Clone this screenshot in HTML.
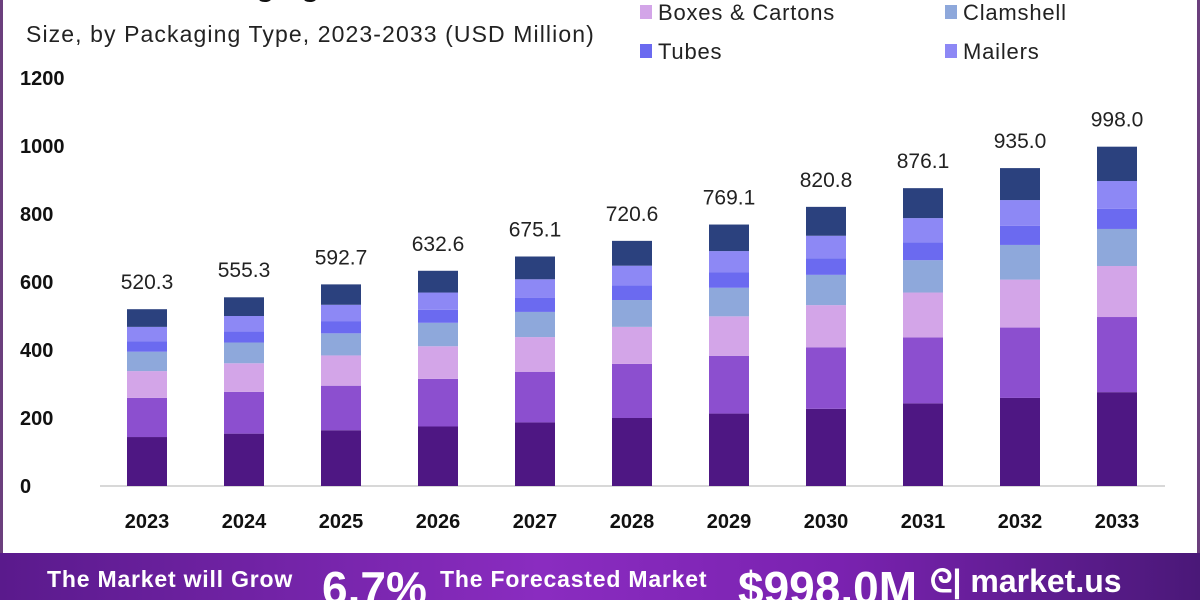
<!DOCTYPE html>
<html><head><meta charset="utf-8"><style>
body{margin:0;width:1200px;height:600px;overflow:hidden;background:#fff;font-family:"Liberation Sans",sans-serif;position:relative}
.frame{position:absolute;left:0;top:0;width:1200px;height:553px;box-sizing:border-box;border-left:3px solid #6b3f7d;border-right:3px solid #6b3f7d}
.banner{position:absolute;left:0;top:553px;width:1200px;height:47px;background:linear-gradient(90deg,#5a1a8c,#8a2cc0 45%,#7a22b0 70%,#4a1878);color:#fff;font-weight:bold}
.banner div{position:absolute;white-space:nowrap}
</style></head><body>
<div class="frame"></div>
<div style="position:absolute;left:26px;top:-30px;font-size:30px;font-weight:bold;color:#111">Cosmetic Packaging Market</div>
<div style="position:absolute;left:26px;top:21px;font-size:23px;letter-spacing:1.1px;color:#222">Size, by Packaging Type, 2023-2033 (USD Million)</div>
<svg id="chart" width="1200" height="553" style="position:absolute;left:0;top:0"></svg>
<div class="banner">
<div style="left:47px;top:13px;font-size:23px;letter-spacing:0.8px">The Market will Grow</div>
<div style="left:322px;top:8px;font-size:46px">6.7%</div>
<div style="left:440px;top:13px;font-size:23px;letter-spacing:0.8px">The Forecasted Market</div>
<div style="left:738px;top:8px;font-size:46px">$998.0M</div>
<div style="left:930px;top:10px;font-size:32px">ᘓ| market.us</div>
</div>
<script>
const years=["2023","2024","2025","2026","2027","2028","2029","2030","2031","2032","2033"];
const totals=[520.3,555.3,592.7,632.6,675.1,720.6,769.1,820.8,876.1,935.0,998.0];
const seg1=[144,154,164,175,187,200,213,227,243,259,276];
const seg2=[115,123,131,140,149,159,170,181,194,207,221];
const seg3=[79,84,89,96,102,109,116,124,132,141,150];
const seg4=[57,61,65,69,74,79,84,89,95,102,109];
const seg5=[31,33,36,38,41,43,46,49,53,56,59];
const seg6=[42,45,48,51,55,58,62,66,71,76,82];
const seg7=[52,55,60,64,67,73,78,85,88,94,101];
const yTicks=[0,200,400,600,800,1000,1200];
const segNames=["Jars","Bottles","Boxes & Cartons","Clamshell","Tubes","Mailers","Others"];
const colors=["#4e1783","#8c4fcf","#d3a5e8","#8ea8db","#6b6af0","#8d88f5","#2b417e"];
const legend=[["Boxes & Cartons",2,640,13],["Clamshell",3,945,13],["Tubes",4,640,52],["Mailers",5,945,52]];
const NS="http://www.w3.org/2000/svg",svg=document.getElementById('chart');
const y=v=>486-v*0.34, x=i=>147+i*97;
function mk(t,a,txt){const e=document.createElementNS(NS,t);for(const k in a)e.setAttribute(k,a[k]);if(txt!==undefined)e.textContent=txt;svg.appendChild(e);return e;}
yTicks.forEach(t=>{const e=mk('text',{x:20,y:y(t)+7,'font-size':20,'font-weight':'bold',fill:'#111'},t);

});
const ax=mk('line',{x1:100,x2:1165,y1:486,y2:486,stroke:'#ccc','stroke-width':1.5});


const series=[seg1,seg2,seg3,seg4,seg5,seg6,seg7];
years.forEach((yr,i)=>{let base=0;
series.forEach((s,k)=>{const r=mk('rect',{x:x(i)-20,y:y(base+s[i]),width:40,height:s[i]*0.34,fill:colors[k]});


base+=s[i];});
const v=mk('text',{x:x(i),y:y(totals[i])-20,'font-size':21,'text-anchor':'middle',fill:'#222'},totals[i].toFixed(1));


const l=mk('text',{x:x(i),y:528,'font-size':20,'font-weight':'bold','text-anchor':'middle',fill:'#111'},yr);

});
legend.forEach(([n,k,lx,ly])=>{const r=mk('rect',{x:lx,y:ly-8,width:12,height:14,fill:colors[k]});


const t=mk('text',{x:lx+18,y:ly+7,'font-size':22,'letter-spacing':0.8,fill:'#222'},n);

});
</script>
</body></html>
